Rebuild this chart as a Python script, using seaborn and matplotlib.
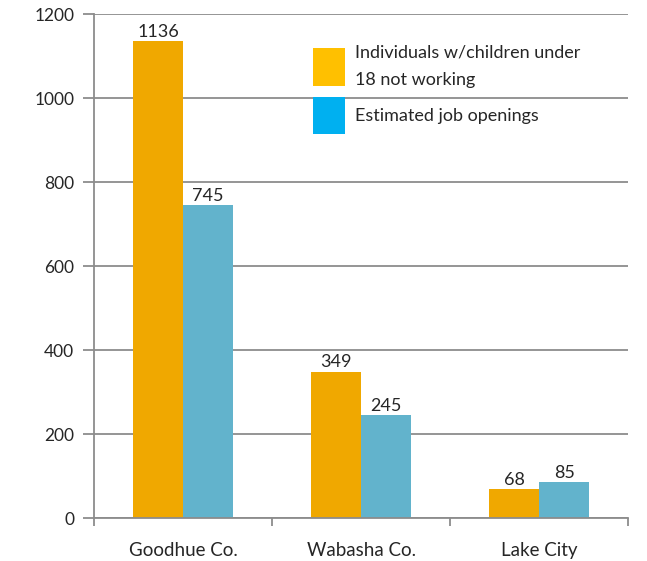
import matplotlib
matplotlib.use("Agg")
import matplotlib.pyplot as plt
from matplotlib.patches import Patch
import pandas as pd
import seaborn as sns

# ── Data ──────────────────────────────────────────────────────────────────────
CATEGORIES = ["Goodhue Co.", "Wabasha Co.", "Lake City"]
SERIES     = ["Individuals w/children under\n18 not working", "Estimated job openings"]
NOT_WORKING   = [1136, 349, 68]
JOB_OPENINGS  = [745, 245, 85]
Y_TICKS       = [0, 200, 400, 600, 800, 1000, 1200]

BAR_COLORS    = ["#F0A800", "#62B3CC"]
LEGEND_COLORS = ["#FFC000", "#00B0F0"]
GRID_GRAY     = "#8C8C8C"
TEXT_DARK     = "#262626"

df = pd.DataFrame({
    "place":  CATEGORIES * 2,
    "series": [SERIES[0]] * 3 + [SERIES[1]] * 3,
    "value":  NOT_WORKING + JOB_OPENINGS,
})

# ── Plot ──────────────────────────────────────────────────────────────────────
sns.set_theme(style="white")
plt.rcParams["font.family"] = ["Lato", "DejaVu Sans"]

fig = plt.figure(figsize=(6.47, 5.61), dpi=100)
ax = fig.add_axes([0.145, 0.0766, 0.826, 0.898])

sns.barplot(data=df, x="place", y="value", hue="series", palette=BAR_COLORS,
            width=0.56, gap=0, saturation=1, legend=False, linewidth=0, ax=ax)

for cont in ax.containers:
    ax.bar_label(cont, fontsize=13, color=TEXT_DARK, padding=1)

ax.set_ylim(0, 1200)
ax.set_xlim(-0.5, 2.5)
ax.set_yticks(Y_TICKS)
ax.set_xlabel("")
ax.set_ylabel("")
ax.yaxis.grid(True, color=GRID_GRAY, linewidth=1.3)
ax.set_axisbelow(True)

for s in ["top", "right"]:
    ax.spines[s].set_visible(False)
for s in ["left", "bottom"]:
    ax.spines[s].set_color(GRID_GRAY)
    ax.spines[s].set_linewidth(1.3)

# x ticks sit at category boundaries, labels at category centres
ax.set_xticks([-0.5, 0.5, 1.5, 2.5])
ax.set_xticklabels([])
ax.set_xticks([0, 1, 2], minor=True)
ax.set_xticklabels(CATEGORIES, minor=True, fontsize=13.5, color=TEXT_DARK)
ax.tick_params(axis="x", which="major", direction="out", length=6, width=1.3,
               color=GRID_GRAY, bottom=True)
ax.tick_params(axis="x", which="minor", length=0, pad=17)
ax.tick_params(axis="y", direction="out", length=8, width=1.3, color=GRID_GRAY,
               left=True, labelsize=12.5, labelcolor=TEXT_DARK, pad=6)

handles = [Patch(facecolor=c, edgecolor="none") for c in LEGEND_COLORS]
leg = ax.legend(handles, SERIES, loc="upper left", bbox_to_anchor=(0.41, 0.94),
                frameon=False, fontsize=13, handlelength=1.75, handleheight=2.8,
                handletextpad=0.6, labelspacing=0.5, borderpad=0, borderaxespad=0,
                labelcolor=TEXT_DARK)
for t in leg.get_texts():
    t.set_linespacing(1.85)

fig.savefig("out.png", dpi=100)
